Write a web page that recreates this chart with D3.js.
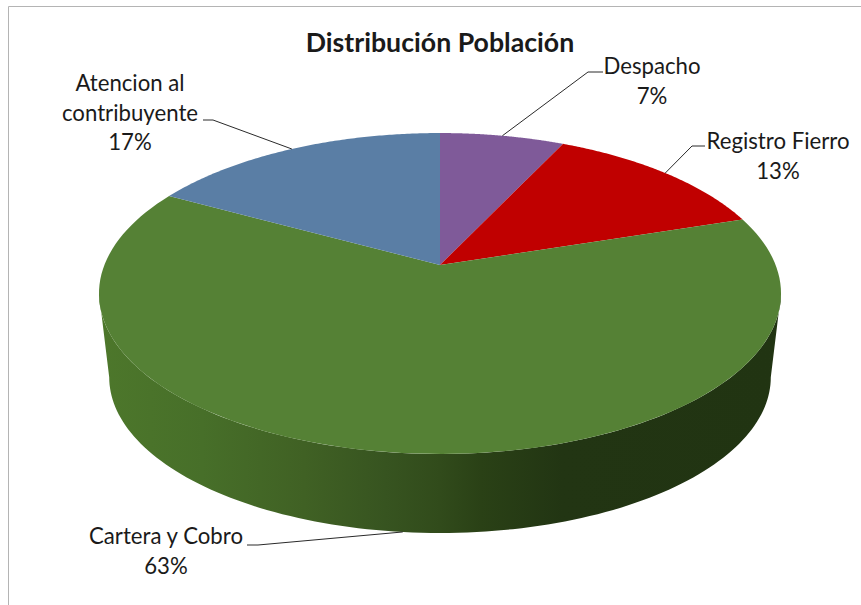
<!DOCTYPE html>
<html lang="es">
<head>
<meta charset="utf-8">
<title>Distribución Población</title>
<script src="https://cdn.jsdelivr.net/npm/d3@7/dist/d3.min.js"></script>
<style>
  html, body { margin: 0; padding: 0; background: #fff; }
  svg { display: block; }
  text { font-family: Lato, "Open Sans", sans-serif; fill: #1a1a1a; }
</style>
</head>
<body>
<svg id="chart" width="861" height="605"></svg>
<script>
// Chart data
const chartTitle = "Distribución Población";
const categories = ["Despacho", "Registro Fierro", "Cartera y Cobro", "Atencion al contribuyente"];
const shares = [7, 13, 63, 17];
const labelLines = [["Despacho", "7%"], ["Registro Fierro", "13%"], ["Cartera y Cobro", "63%"], ["Atencion al", "contribuyente", "17%"]];
const sliceColors = ["#7f5a99", "#c00000", "#558135", "#5a7ea5"];

// Label placement: centre of each text block and first baseline, plus the leader elbow
const labelPlacement = [
  { x: 652, y: 74, elbowX: 588, elbowY: 72, startX: 603 },
  { x: 778, y: 149, elbowX: 692, elbowY: 146, startX: 705 },
  { x: 166, y: 544, elbowX: 258, elbowY: 545, startX: 247 },
  { x: 130, y: 91, elbowX: 213, elbowY: 120, startX: 203 }
];

const svg = d3.select("#chart");

// Perspective model of the disc: apex position, foreshortening and depth of the rim
const apex = { x: 440, y: 265 };
const tilt = 0.1776;
const planeX = d3.scaleLinear().domain([-1, 1]).range([apex.x - 335.6, apex.x + 335.6]);
const planeY = d3.scaleLinear().domain([-1, 1]).range([apex.y + 155.4, apex.y - 155.4]);
const rimScale = 0.97;
const topCentreY = 293.5;
const rimCentreY = 377.3;

function topPoint(theta) {
  const u = Math.sin(theta), v = Math.cos(theta), w = 1 + tilt * v;
  return [apex.x + (planeX(u) - apex.x) / w, apex.y + (planeY(v) - apex.y) / w];
}
function rimPoint(theta) {
  const [x, y] = topPoint(theta);
  return [apex.x + (x - apex.x) * rimScale, rimCentreY + (y - topCentreY) * rimScale];
}

const pie = d3.pie().sort(null).value(d => d);
const arcs = pie(shares);
const line = d3.line();
const sampleAngles = (a, b) => d3.range(0, 121).map(i => a + (b - a) * i / 120);

// Frame on the top and left edges
svg.append("path").attr("d", "M8.5,605V6.5H861").attr("fill", "none").attr("stroke", "#b4b4b4").attr("stroke-width", 1);

// Shading along the visible rim
const defs = svg.append("defs");
const rimGradient = defs.append("linearGradient").attr("id", "rimShade")
  .attr("gradientUnits", "userSpaceOnUse").attr("x1", 100).attr("x2", 780).attr("y1", 0).attr("y2", 0);
[[0, "#4d772b"], [0.15, "#476f29"], [0.3, "#406124"], [0.42, "#375420"], [0.5, "#314b1b"], [0.56, "#2a4116"], [0.68, "#223513"], [1, "#213412"]]
  .forEach(([o, c]) => rimGradient.append("stop").attr("offset", o).attr("stop-color", c));

// Rim: from the right silhouette point round the front to the left one
const silhouette = Math.acos(-tilt);
const rimAngles = sampleAngles(silhouette, 2 * Math.PI - silhouette);
svg.append("path")
  .attr("d", line(rimAngles.map(topPoint).concat(rimAngles.slice().reverse().map(rimPoint))) + "Z")
  .attr("fill", "url(#rimShade)");

// Top face slices
svg.selectAll("path.slice").data(arcs).join("path")
  .attr("class", "slice")
  .attr("d", d => line([[apex.x, apex.y]].concat(sampleAngles(d.startAngle, d.endAngle).map(topPoint))) + "Z")
  .attr("fill", (d, i) => sliceColors[i]);

// Leader lines run from each label to its slice mid-angle on the outer edge
svg.selectAll("path.leader").data(arcs).join("path")
  .attr("class", "leader")
  .attr("fill", "none").attr("stroke", "#2a2a2a").attr("stroke-width", 1)
  .attr("d", (d, i) => {
    const mid = (d.startAngle + d.endAngle) / 2;
    const p = labelPlacement[i];
    const end = (mid > Math.PI / 2 && mid < 3 * Math.PI / 2) ? rimPoint(mid) : topPoint(mid);
    return line([[p.startX, p.elbowY], [p.elbowX, p.elbowY], end]);
  });

// Labels
svg.selectAll("text.label").data(labelLines).join("text")
  .attr("class", "label")
  .attr("text-anchor", "middle")
  .attr("font-size", 22.2)
  .attr("data-category", (d, i) => categories[i])
  .each(function (rows, i) {
    d3.select(this).selectAll("tspan").data(rows).join("tspan")
      .attr("x", labelPlacement[i].x)
      .attr("y", (r, j) => labelPlacement[i].y + j * 29.5)
      .text(r => r);
  });

// Title
svg.append("text").attr("x", 440).attr("y", 52).attr("text-anchor", "middle")
  .attr("font-size", 26.7).attr("font-weight", 700).text(chartTitle);
</script>
</body>
</html>
